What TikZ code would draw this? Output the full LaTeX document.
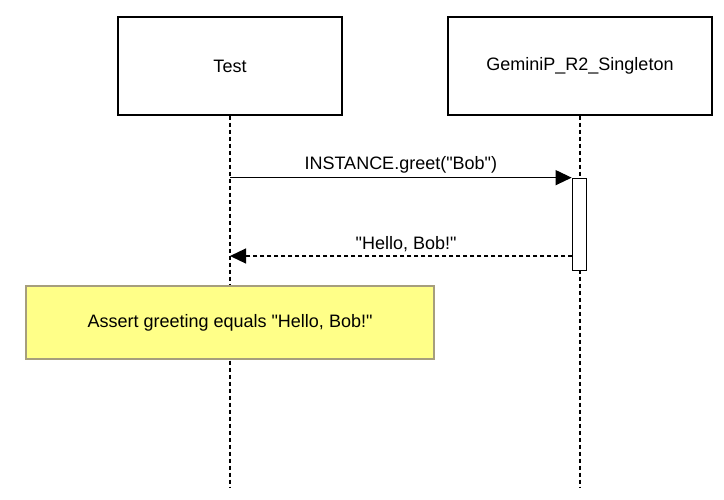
\documentclass[tikz,border=0pt]{standalone}
\usepackage{fontspec}
\setmainfont{Liberation Sans}[Ligatures=TeXOff]
\usetikzlibrary{arrows.meta}
\definecolor{notefill}{HTML}{FFFF88}
\definecolor{noteline}{HTML}{A69E7D}

\begin{document}
\begin{tikzpicture}[x=1pt, y=-1pt, line width=1.2pt,
    every node/.style={font=\fontsize{18}{21}\selectfont},
    actor/.style={draw, minimum width=224pt, minimum height=98pt, inner sep=0pt},
    lifeline/.style={dash pattern=on 4pt off 3pt},
    msg/.style={-{Triangle[length=16pt,width=15pt]}}]
        \useasboundingbox (0,0) rectangle (724,499);

        % Draw the participants
        \node[actor] (test) at (230,66) {Test};
        \node[actor, minimum width=264pt] (gem) at (580,66) {GeminiP\_R2\_Singleton};

        % Draw the lifelines
        \coordinate (testend) at (230,487);
        \coordinate (gemend) at (580,487);
        \draw[lifeline] (test.south) -- (testend);
        \draw[lifeline] (gem.south) -- (gemend);

        % Draw the activation bar
        \node[draw, fill=white, minimum width=14.5pt, minimum height=92.5pt, inner sep=0pt] (act) at (579.5,224.5) {};

        % Draw the call and the return
        \draw[msg] (test |- act.north) -- node[above, inner sep=4pt] {INSTANCE.greet("Bob")} (act.north west);
        \coordinate (ret) at (572.3,256);
        \draw[msg, lifeline] (ret) -- node[above, inner sep=4pt, xshift=5pt] {"Hello, Bob!"} (test |- ret);

        % Draw the note
        \node[draw=noteline, fill=notefill, minimum width=408pt, minimum height=73pt, inner sep=0pt] (note) at (230,322.5) {Assert greeting equals "Hello, Bob!"};
    \end{tikzpicture}
\end{document}
